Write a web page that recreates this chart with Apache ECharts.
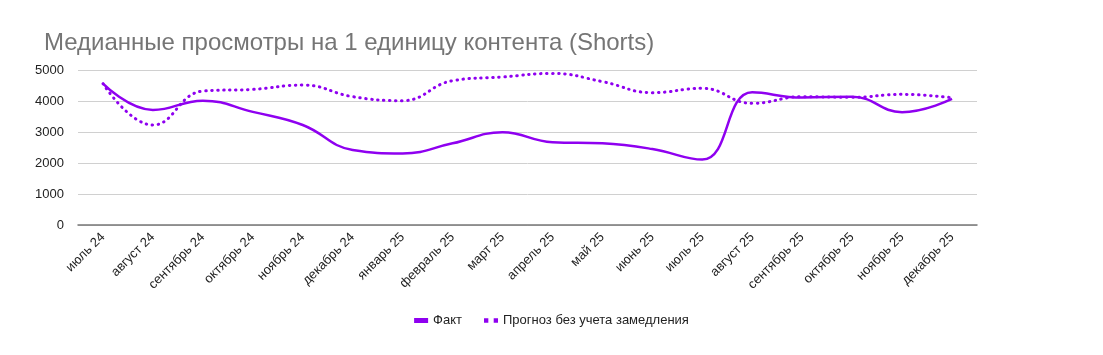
<!DOCTYPE html>
<html><head><meta charset="utf-8">
<script src="https://cdn.jsdelivr.net/npm/echarts@6/dist/echarts.min.js"></script>
<style>html,body{margin:0;padding:0;background:#fff}#c{width:1103px;height:355px}</style>
</head><body><div id="c"></div>
<script>
const categories = ['июль 24','август 24','сентябрь 24','октябрь 24','ноябрь 24','декабрь 24','январь 25','февраль 25','март 25','апрель 25','май 25','июнь 25','июль 25','август 25','сентябрь 25','октябрь 25','ноябрь 25','декабрь 25'];
const fact = [4560,3710,4010,3650,3225,2420,2310,2635,2990,2670,2635,2450,2110,4280,4110,4140,3640,4065];
const forecast = [4560,3225,4320,4375,4515,4140,4010,4655,4775,4890,4625,4270,4410,3925,4140,4120,4215,4105];
const yTicks = {min:0, max:5000, interval:1000};
const purple = '#8f00f0';
const chart = echarts.init(document.getElementById('c'), null, {renderer:'canvas'});
chart.setOption({
  animation:false,
  title:{text:'Медианные просмотры на 1 единицу контента (Shorts)', left:39, top:26,
    textStyle:{fontFamily:'Liberation Sans', fontSize:24, fontWeight:'normal', color:'#757575'}},
  grid:{left:78, right:126, top:70, bottom:130},
  legend:{bottom:23, left:'center', itemWidth:14, itemHeight:5, itemGap:22,
    textStyle:{fontFamily:'Liberation Sans', fontSize:13, color:'#222'},
    data:[
      {name:'Факт', icon:'rect'},
      {name:'Прогноз без учета замедления', icon:'path://M0,0h4v4h-4z M9,0h4v4h-4z'}
    ]},
  xAxis:{type:'category', data:categories, boundaryGap:true,
    axisLine:{lineStyle:{color:'#777', width:1.5}}, axisTick:{show:false},
    axisLabel:{rotate:45, interval:0, fontFamily:'Liberation Sans', fontSize:13, color:'#222', margin:10}},
  yAxis:{type:'value', min:yTicks.min, max:yTicks.max, interval:yTicks.interval,
    axisLine:{show:false}, axisTick:{show:false},
    axisLabel:{fontFamily:'Liberation Sans', fontSize:13, color:'#222', margin:14, formatter:function(v){return String(v);}},
    splitLine:{lineStyle:{color:'#d0d0d0'}}},
  series:[
    {name:'Факт', type:'line', data:fact, smooth:0.45, showSymbol:false, symbol:'none',
      lineStyle:{color:purple, width:2.5}, itemStyle:{color:purple}, z:3},
    {name:'Прогноз без учета замедления', type:'line', data:forecast, smooth:0.45, showSymbol:false, symbol:'none',
      lineStyle:{color:purple, width:3, type:[0.5,5.5], cap:'round'}, itemStyle:{color:purple}, z:2}
  ]
});
</script></body></html>
